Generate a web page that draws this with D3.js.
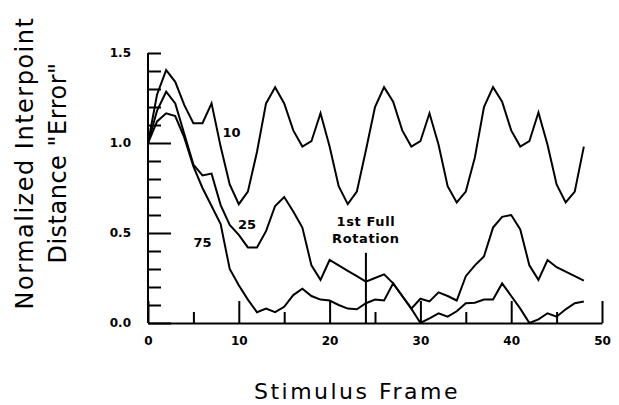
<!DOCTYPE html>
<html>
<head>
<meta charset="utf-8">
<script src="https://cdn.jsdelivr.net/npm/d3@7"></script>
<style>
  body { margin: 0; background: #fff; }
  svg { display: block; }
</style>
</head>
<body>
<svg id="chart" width="619" height="405"></svg>
<script>
// stimulus frames on the x axis
const frames = [0, 1, 2, 3, 4, 5, 6, 7, 8, 9, 10, 11, 12, 13, 14, 15, 16, 17, 18, 19, 20, 21, 22, 23, 24,
  25, 26, 27, 28, 29, 30, 31, 32, 33, 34, 35, 36, 37, 38, 39, 40, 41, 42, 43, 44, 45, 46, 47, 48];

// normalized interpoint distance "error", one array per condition
const err10 = [1.0, 1.27, 1.405, 1.34, 1.21, 1.11, 1.11, 1.22, 0.98, 0.77, 0.66, 0.73, 0.95, 1.22, 1.31, 1.22,
  1.07, 0.98, 1.01, 1.165, 0.98, 0.76, 0.66, 0.73, 0.96, 1.2, 1.31, 1.23, 1.07, 0.98, 1.01, 1.165, 0.99,
  0.76, 0.67, 0.73, 0.92, 1.2, 1.31, 1.23, 1.07, 0.98, 1.01, 1.17, 0.99, 0.77, 0.67, 0.73, 0.98];
const err25 = [1.0, 1.18, 1.285, 1.22, 1.05, 0.88, 0.82, 0.83, 0.655, 0.545, 0.49, 0.42, 0.42, 0.51, 0.65, 0.7,
  0.62, 0.53, 0.32, 0.24, 0.35, 0.32, 0.29, 0.26, 0.23, 0.25, 0.27, 0.22, 0.15, 0.08, 0.135, 0.12, 0.17,
  0.15, 0.125, 0.26, 0.32, 0.37, 0.53, 0.59, 0.6, 0.52, 0.32, 0.24, 0.35, 0.31, 0.285, 0.26, 0.235];
const err75 = [1.0, 1.12, 1.165, 1.15, 1.03, 0.87, 0.75, 0.65, 0.55, 0.3, 0.21, 0.13, 0.06, 0.08, 0.06, 0.09,
  0.155, 0.19, 0.15, 0.13, 0.125, 0.1, 0.08, 0.076, 0.11, 0.13, 0.125, 0.22, 0.15, 0.08, 0.0, 0.026, 0.054,
  0.035, 0.065, 0.11, 0.113, 0.13, 0.13, 0.22, 0.15, 0.08, 0.0, 0.02, 0.054, 0.035, 0.076, 0.11, 0.12];

const seriesNames = ["10", "25", "75"];
const xTickLabels = [0, 10, 20, 30, 40, 50];
const xMinorTicks = [5, 15, 25, 35, 45];
const yTickLabels = [0.0, 0.5, 1.0];
const yMinorTicks = [0.1, 0.2, 0.3, 0.4, 0.6, 0.7, 0.8, 0.9, 1.1, 1.2, 1.3, 1.4, 1.5];

// where the curve labels and the rotation marker sit, in data units
const labelPos = [[9.2, 1.06], [10.9, 0.55], [6.0, 0.45]];
const rotationFrame = 24;

const svg = d3.select("#chart");
const x = d3.scaleLinear().domain([0, 50]).range([148, 602]);
const y = d3.scaleLinear().domain([0, 1.5]).range([323, 53]);

const tickFont = "DejaVu Sans, sans-serif";

// y axis: minor ticks, then labelled majors
svg.append("g")
  .attr("transform", `translate(${x(0)},0)`)
  .call(d3.axisLeft(y).tickValues(yMinorTicks).tickSize(-13).tickSizeOuter(0).tickFormat(""))
  .call((g) => g.select(".domain").remove());
const yAxis = svg.append("g")
  .attr("transform", `translate(${x(0)},0)`)
  .call(d3.axisLeft(y).tickValues(yTickLabels).tickSize(-23).tickSizeOuter(0).tickPadding(17).tickFormat(d3.format(".1f")));
yAxis.append("text")
  .attr("x", -17).attr("y", y(1.5)).attr("dy", "0.32em")
  .attr("text-anchor", "end").attr("fill", "#000")
  .text("1.5");
yAxis.select(".domain").attr("d", `M0,${y(1.5)}V${y(0)}`);

// x axis
svg.append("g")
  .attr("transform", `translate(0,${y(0)})`)
  .call(d3.axisBottom(x).tickValues(xMinorTicks).tickSize(-11).tickSizeOuter(0).tickFormat(""))
  .call((g) => g.select(".domain").remove());
svg.append("g")
  .attr("transform", `translate(0,${y(0)})`)
  .call(d3.axisBottom(x).tickValues(xTickLabels).tickSize(-22).tickSizeOuter(0).tickPadding(13).tickFormat(d3.format("d")));

svg.selectAll(".tick line").attr("stroke", "#000").attr("stroke-width", 2);
svg.selectAll(".domain").attr("stroke", "#000").attr("stroke-width", 2);
svg.selectAll(".tick text")
  .attr("font-family", tickFont).attr("font-weight", "bold").attr("font-size", 12);
yAxis.selectAll("text").attr("font-family", tickFont).attr("font-weight", "bold").attr("font-size", 12);

// the three curves
const line = d3.line().x((d, i) => x(frames[i])).y((d) => y(d));
svg.selectAll("path.curve")
  .data([err10, err25, err75])
  .enter()
  .append("path")
  .attr("class", "curve")
  .attr("d", line)
  .attr("fill", "none")
  .attr("stroke", "#000")
  .attr("stroke-width", 2)
  .attr("stroke-linejoin", "miter");

svg.selectAll("text.curve-label")
  .data(seriesNames)
  .enter()
  .append("text")
  .attr("class", "curve-label")
  .attr("x", (_, i) => x(labelPos[i][0]))
  .attr("y", (_, i) => y(labelPos[i][1]))
  .attr("dy", "0.35em")
  .attr("text-anchor", "middle")
  .attr("font-family", tickFont)
  .attr("font-weight", "bold")
  .attr("font-size", 13)
  .text((d) => d);

// first full rotation marker
svg.append("line")
  .attr("x1", x(rotationFrame)).attr("x2", x(rotationFrame))
  .attr("y1", y(0.39)).attr("y2", y(0))
  .attr("stroke", "#000").attr("stroke-width", 2);
svg.append("text")
  .attr("x", x(rotationFrame)).attr("y", y(0.54))
  .attr("text-anchor", "middle")
  .attr("font-family", tickFont).attr("font-weight", "bold").attr("font-size", 13)
  .attr("letter-spacing", 0.6)
  .selectAll("tspan")
  .data(["1st Full", "Rotation"])
  .enter()
  .append("tspan")
  .attr("x", x(rotationFrame))
  .attr("dy", (_, i) => (i ? "1.3em" : 0))
  .text((d) => d);

// axis titles
svg.append("text")
  .attr("x", 357).attr("y", 399)
  .attr("text-anchor", "middle")
  .attr("font-family", tickFont).attr("font-size", 22)
  .attr("letter-spacing", 2.5)
  .text("Stimulus Frame");

const yTitle = svg.append("g").attr("transform", "translate(0,163) rotate(-90)");
yTitle.append("text")
  .attr("x", 0).attr("y", 33)
  .attr("text-anchor", "middle")
  .attr("font-family", tickFont).attr("font-size", 24)
  .attr("letter-spacing", 1.5)
  .text("Normalized Interpoint");
yTitle.append("text")
  .attr("x", 0).attr("y", 66)
  .attr("text-anchor", "middle")
  .attr("font-family", tickFont).attr("font-size", 24)
  .attr("letter-spacing", 0.5)
  .text("Distance \"Error\"");
</script>
</body>
</html>
